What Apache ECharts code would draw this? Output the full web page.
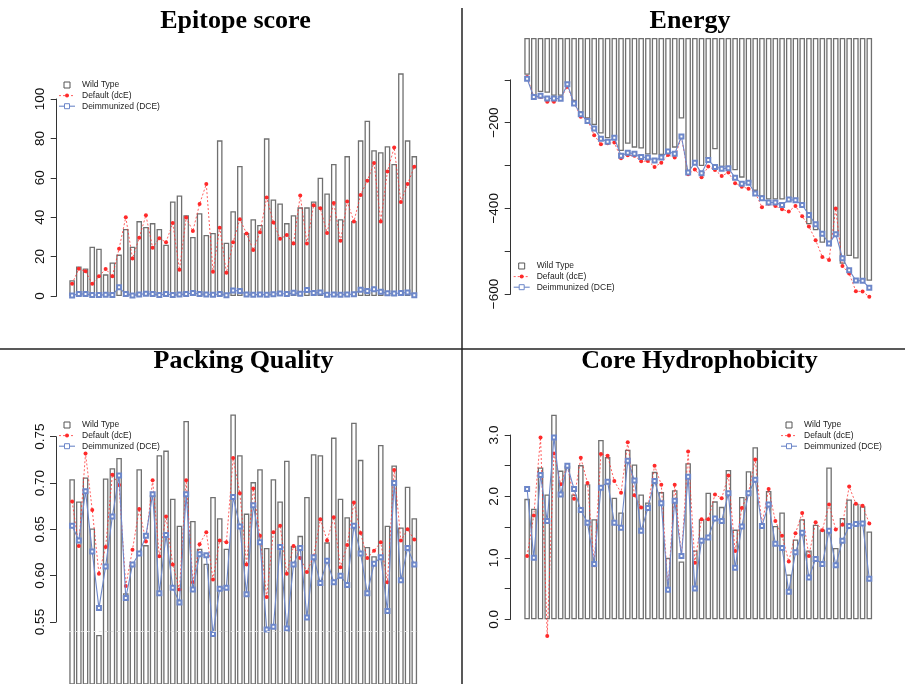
<!DOCTYPE html>
<html><head><meta charset="utf-8">
<script src="https://cdn.jsdelivr.net/npm/echarts@6/dist/echarts.min.js"></script>
<style>html,body{margin:0;padding:0;background:#fff}#c{width:905px;height:684px}</style>
</head><body><div id="c"></div>
<script>
// ---------------- data ----------------
const proteins = ['1','2','3','4','5','6','7','8','9','10','11','12','13','14','15','16','17','18','19','20','21','22','23','24','25','26','27','28','29','30','31','32','33','34','35','36','37','38','39','40','41','42','43','44','45','46','47','48','49','50','51','52'];
const seriesNames = ['Wild Type', 'Default (dcE)', 'Deimmunized (DCE)'];
const panelTitles = ['Epitope score', 'Energy', 'Packing Quality', 'Core Hydrophobicity'];

const epitopeWildType = [8,15,14,25,24,11,17,21,34,25,38,35,37,34,26,48,51,41,30,42,31,32,79,27,43,66,32,39,36,80,49,47,37,41,45,45,48,60,52,67,39,71,38,79,89,74,73,76,67,113,79,71];
const epitopeDefault = [6.2,13.8,12.5,6.2,10,13.7,10,24,40,19,29.5,41,24.5,29.3,27.3,37,13.3,39.8,33,46.7,56.8,12.3,34.7,11.8,27.3,39,31.7,23.4,32.4,50,37.3,29,30.9,26.6,51,26.6,46,44.5,32,47.2,28,47.9,37.8,51.3,58.5,67.5,37.8,63.2,75.4,47.7,56.8,65.6];
const epitopeDeimm = [0.3,1,1,0.5,0.5,0.6,0.5,4.4,1,0.3,0.8,1.2,1,0.5,1,0.5,0.7,1,1.5,1,0.8,0.6,1,0.4,2.8,2.6,0.8,0.6,0.8,0.6,0.9,1.3,1,1.6,1.2,3,1.5,1.8,0.6,0.7,0.6,0.8,0.9,3.2,2.5,3.4,2.2,1.4,1.3,1.5,1.8,0.4];

const energyWildType = [-86,-136,-126,-128,-135,-135,-106,-147,-174,-188,-203,-223,-234,-232,-264,-247,-256,-258,-272,-272,-273,-265,-256,-188,-312,-290,-299,-281,-260,-301,-304,-309,-326,-338,-357,-371,-377,-377,-377,-374,-377,-392,-435,-449,-478,-479,-458,-527,-509,-515,-567,-567];
const energyDefault = [-91,-137,-138,-149,-149,-141,-114,-151,-184,-191,-227,-248,-246,-244,-281,-274,-275,-288,-287,-301,-291,-273,-279,-231,-318,-307,-325,-300,-308,-322,-314,-339,-347,-352,-361,-395,-387,-392,-400,-405,-392,-416,-440,-472,-511,-518,-398,-532,-550,-591,-592,-604];
const energyDeimm = [-95,-138,-135,-141,-141,-142,-108,-153,-178,-194,-211,-235,-242,-233,-275,-268,-270,-278,-279,-286,-279,-265,-270,-230,-314,-291,-316,-285,-301,-305,-304,-326,-340,-338,-363,-374,-384,-384,-390,-377,-379,-390,-413,-435,-457,-480,-458,-514,-542,-566,-567,-583];

const packingWildType = [0.704,0.680,0.706,0.651,0.536,0.705,0.716,0.727,0.581,0.613,0.715,0.633,0.687,0.730,0.735,0.683,0.654,0.767,0.659,0.629,0.613,0.685,0.662,0.629,0.774,0.730,0.667,0.701,0.715,0.630,0.704,0.680,0.724,0.632,0.643,0.685,0.731,0.730,0.636,0.749,0.683,0.663,0.765,0.725,0.631,0.621,0.741,0.654,0.719,0.652,0.696,0.662];
const packingDefault = [0.680,0.632,0.732,0.671,0.602,0.631,0.709,0.698,0.589,0.628,0.672,0.637,0.703,0.621,0.664,0.612,0.585,0.703,0.593,0.634,0.647,0.596,0.638,0.636,0.727,0.689,0.612,0.694,0.643,0.577,0.647,0.654,0.602,0.632,0.619,0.604,0.621,0.661,0.638,0.663,0.609,0.633,0.679,0.646,0.619,0.627,0.636,0.593,0.714,0.638,0.650,0.639];
const packingDeimm = [0.654,0.638,0.691,0.626,0.565,0.610,0.664,0.708,0.576,0.612,0.624,0.643,0.688,0.581,0.644,0.587,0.571,0.688,0.585,0.623,0.622,0.537,0.586,0.587,0.685,0.653,0.580,0.676,0.636,0.542,0.545,0.631,0.543,0.612,0.630,0.555,0.620,0.592,0.616,0.593,0.600,0.590,0.654,0.624,0.581,0.613,0.620,0.562,0.700,0.595,0.630,0.612];

const coreWildType = [1.96,1.80,2.47,2.03,3.33,2.42,2.50,2.03,2.51,2.20,1.63,2.92,2.64,1.98,1.74,2.76,2.52,2.03,1.90,2.40,2.07,1.00,2.10,0.94,2.54,1.12,1.63,2.06,1.92,1.83,2.43,1.46,1.99,2.41,2.80,1.56,2.09,1.52,1.74,0.73,1.30,1.63,1.12,1.54,1.46,2.47,1.16,1.65,1.95,1.88,1.84,1.43];
const coreDefault = [1.03,1.69,2.96,-0.27,2.70,2.20,2.50,1.96,2.63,2.22,0.88,2.69,2.66,2.25,2.06,2.88,2.02,1.82,1.82,2.50,2.19,0.48,2.19,1.02,2.73,0.92,1.63,1.63,2.03,1.97,2.34,1.11,1.81,2.06,2.60,1.54,2.12,1.60,1.36,0.94,1.40,1.73,1.03,1.58,1.45,1.87,1.46,1.54,2.16,1.88,1.85,1.56];
const coreDeimm = [2.12,1.00,2.35,1.60,2.96,2.03,2.50,2.12,1.78,1.57,0.90,2.14,2.24,1.57,1.49,2.58,2.26,1.44,1.81,2.25,1.89,0.48,1.93,1.03,2.32,0.50,1.28,1.33,1.64,1.60,2.05,0.84,1.51,2.05,2.27,1.52,1.87,1.23,1.16,0.45,1.09,1.41,0.68,0.98,0.90,1.44,0.88,1.28,1.52,1.55,1.56,0.66];

// tick values and their labels (blank = tick without label)
const epitopeTicks = [0,20,40,60,80,100];
const epitopeTickLabels = ['0','20','40','60','80','100'];
const energyTicks = [-600,-500,-400,-300,-200,-100];
const energyTickLabels = ['\u2212600','','\u2212400','','\u2212200',''];
const packingTicks = [0.55,0.60,0.65,0.70,0.75];
const packingTickLabels = ['0.55','0.60','0.65','0.70','0.75'];
const coreTicks = [0,0.5,1,1.5,2,2.5,3];
const coreTickLabels = ['0.0','','1.0','','2.0','','3.0'];

// ---------------- layout (positions & styles only) ----------------
const panels = [
  {wt: epitopeWildType, def: epitopeDefault, dce: epitopeDeimm, ticks: epitopeTicks, labels: epitopeTickLabels,
   data: {left: 68.75, top: 69.4, width: 348.9, height: 226.6, min: 0, max: 115},
   axis: {left: 56.7, top: 99, height: 197}, title: [235.5, 8], legend: [67, 85]},
  {wt: energyWildType, def: energyDefault, dce: energyDeimm, ticks: energyTicks, labels: energyTickLabels,
   data: {left: 523.75, top: 38, width: 348.9, height: 262.4, min: -612.6, max: 0},
   axis: {left: 510.7, top: 79.8, height: 214.2}, title: [690, 8], legend: [521.7, 266]},
  {wt: packingWildType, def: packingDefault, dce: packingDeimm, ticks: packingTicks, labels: packingTickLabels,
   data: {left: 68.75, top: 408.9, width: 348.9, height: 275.1, min: 0.4831, max: 0.78},
   axis: {left: 56, top: 436.7, height: 185.3}, title: [243.5, 348.5], legend: [67, 425], whiteLine: 0.5355},
  {wt: coreWildType, def: coreDefault, dce: coreDeimm, ticks: coreTicks, labels: coreTickLabels,
   data: {left: 523.75, top: 410.4, width: 348.9, height: 230.4, min: -0.35, max: 3.4},
   axis: {left: 510.7, top: 435, height: 184.3}, title: [699.5, 348.5], legend: [789, 425]}
];

const RED = '#ff2a2a', BLUE = '#6d87c9', BARLINE = '#707070';

const grid = [], xAxis = [], yAxis = [], series = [], title = [], graphic = [];

panels.forEach((p, i) => {
  const gData = grid.length;
  grid.push({left: p.data.left, top: p.data.top, width: p.data.width, height: p.data.height, containLabel: false, outerBoundsMode: 'none'});
  xAxis.push({type: 'category', gridIndex: gData, data: proteins, show: false, boundaryGap: true});
  yAxis.push({type: 'value', gridIndex: gData, min: p.data.min, max: p.data.max, show: false, splitLine: {show: false}});

  const gAxis = grid.length;
  const tmin = p.ticks[0], tmax = p.ticks[p.ticks.length - 1];
  grid.push({left: p.axis.left, top: p.axis.top, width: 10, height: p.axis.height, containLabel: false, outerBoundsMode: 'none'});
  xAxis.push({type: 'category', gridIndex: gAxis, data: proteins, show: false});
  yAxis.push({
    type: 'value', gridIndex: gAxis, min: tmin, max: tmax, interval: p.ticks[1] - p.ticks[0],
    axisLine: {show: true, lineStyle: {color: '#333', width: 1}},
    axisTick: {show: true, length: 6, lineStyle: {color: '#333', width: 1}},
    splitLine: {show: false},
    axisLabel: {
      rotate: 90, margin: 9, fontSize: 13.5, color: '#111', fontFamily: 'Liberation Sans',
      formatter: v => { const k = p.ticks.findIndex(t => Math.abs(t - v) < 1e-6); return k >= 0 ? p.labels[k] : ''; }
    }
  });

  const bar = {
    name: seriesNames[0], type: 'bar', xAxisIndex: gData, yAxisIndex: gData, data: p.wt,
    barWidth: 5.6, itemStyle: {color: '#fff', borderColor: BARLINE, borderWidth: 1.3}, z: 2
  };
  if (p.whiteLine !== undefined) {
    bar.markLine = {silent: true, symbol: 'none', label: {show: false},
      lineStyle: {color: '#e4e4e4', type: [3, 3], width: 1}, data: [{yAxis: p.whiteLine}]};
  }
  series.push(bar);
  series.push({
    name: seriesNames[1], type: 'line', xAxisIndex: gData, yAxisIndex: gData, data: p.def,
    symbol: 'circle', symbolSize: 4, showAllSymbol: true, itemStyle: {color: RED},
    lineStyle: {color: RED, width: 1, type: [2, 2], opacity: 0.75}, z: 3
  });
  series.push({
    name: seriesNames[2], type: 'line', xAxisIndex: gData, yAxisIndex: gData, data: p.dce,
    symbol: 'emptyRect', symbolSize: 4, showAllSymbol: true, itemStyle: {color: BLUE, borderColor: BLUE, borderWidth: 1},
    lineStyle: {color: BLUE, width: 1.1}, z: 4
  });

  title.push({
    text: panelTitles[i], left: p.title[0], top: p.title[1], textAlign: 'center', padding: 0,
    textStyle: {fontFamily: 'Liberation Serif', fontWeight: 'bold', fontSize: 26, color: '#000'}
  });

  // legend (drawn as R does: symbol / line samples + text)
  const sx = p.legend[0], y0 = p.legend[1], dy = 10.6, tx = sx + 15;
  const font = '8.5px "Liberation Sans"';
  graphic.push({type: 'rect', shape: {x: sx - 3, y: y0 - 3, width: 6, height: 6}, style: {fill: 'none', stroke: '#555', lineWidth: 1}});
  graphic.push({type: 'line', shape: {x1: sx - 8, y1: y0 + dy, x2: sx + 8, y2: y0 + dy}, style: {stroke: RED, lineWidth: 1, lineDash: [2, 2], opacity: 0.75}});
  graphic.push({type: 'circle', shape: {cx: sx, cy: y0 + dy, r: 2}, style: {fill: RED}});
  graphic.push({type: 'line', shape: {x1: sx - 8, y1: y0 + 2 * dy, x2: sx + 8, y2: y0 + 2 * dy}, style: {stroke: BLUE, lineWidth: 1.1}});
  graphic.push({type: 'rect', shape: {x: sx - 2.5, y: y0 + 2 * dy - 2.5, width: 5, height: 5}, style: {fill: '#fff', stroke: BLUE, lineWidth: 1}});
  seriesNames.forEach((n, k) => {
    graphic.push({type: 'text', x: tx, y: y0 + k * dy, style: {text: n, font: font, fill: '#222', textVerticalAlign: 'middle', verticalAlign: 'middle'}});
  });
});

// panel dividers
graphic.push({type: 'line', shape: {x1: 462, y1: 8, x2: 462, y2: 684}, style: {stroke: '#222', lineWidth: 1.5}});
graphic.push({type: 'line', shape: {x1: 0, y1: 349, x2: 905, y2: 349}, style: {stroke: '#222', lineWidth: 1.5}});

const chart = echarts.init(document.getElementById('c'), null, {renderer: 'canvas'});
chart.setOption({animation: false, backgroundColor: '#fff', title, grid, xAxis, yAxis, series, graphic});
</script></body></html>
